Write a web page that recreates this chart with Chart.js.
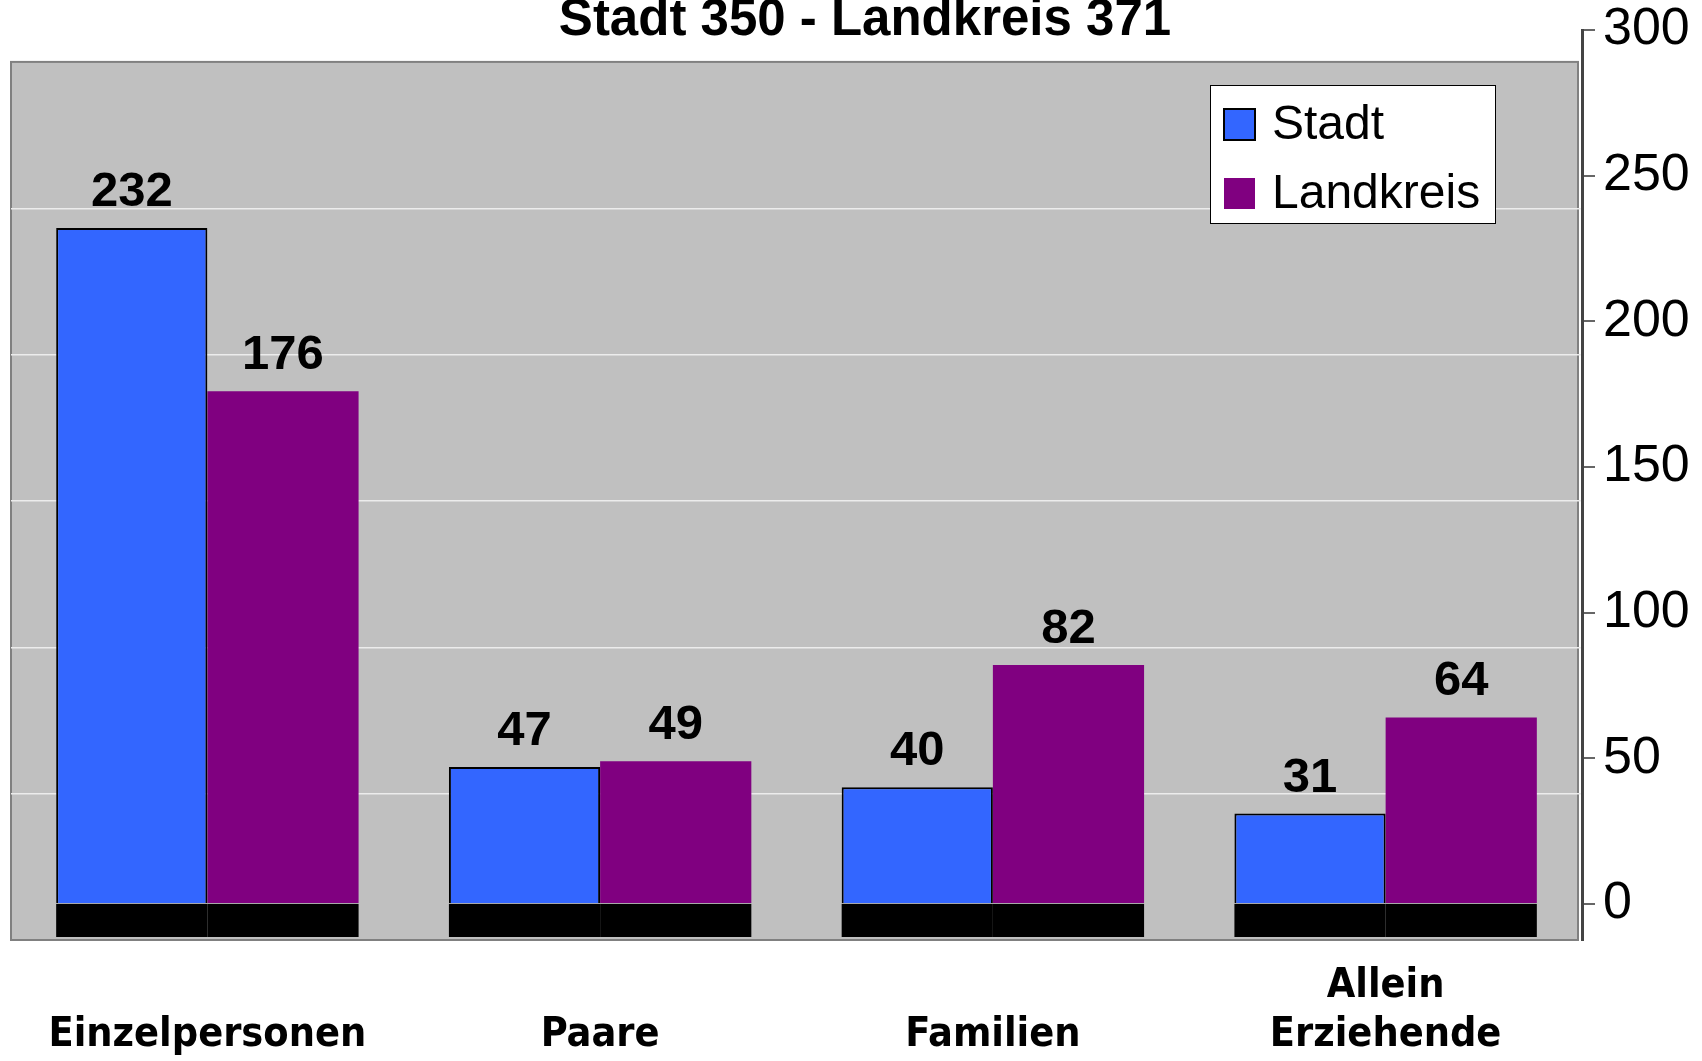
<!DOCTYPE html>
<html>
<head>
<meta charset="utf-8">
<script src="https://cdn.jsdelivr.net/npm/chart.js@4.4.1/dist/chart.umd.min.js"></script>
<style>
  html, body { margin: 0; padding: 0; background: #fff; }
  #wrap { width: 1702px; height: 1061px; }
</style>
</head>
<body>
<div id="wrap"><canvas id="chart"></canvas></div>
<script>
// values
const categories = ['Einzelpersonen', 'Paare', 'Familien', ['Allein', 'Erziehende']];
const stadt = [232, 47, 40, 31];
const landkreis = [176, 49, 82, 64];
const yTicks = [0, 50, 100, 150, 200, 250, 300];
const wallLines = [50, 100, 150, 200, 250];
const titleText = 'Stadt 350 - Landkreis 371';

// the gray back wall sits lower than the value axis, like the 3D original
const axisMin = -12.4;
const wallMax = 310.9;

const wallPlugin = {
    id: 'wall',
    beforeDraw(chart) {
        const ctx = chart.ctx;
        const area = chart.chartArea;
        const g = chart.scales.g;
        const top = g.getPixelForValue(300);
        const bottom = g.getPixelForValue(0);
        ctx.save();
        ctx.fillStyle = '#c0c0c0';
        ctx.fillRect(area.left, top, area.right - area.left - 4, bottom - top);
        ctx.strokeStyle = '#808080';
        ctx.lineWidth = 2;
        ctx.strokeRect(area.left, top, area.right - area.left - 4, bottom - top);
        ctx.restore();
    },
    beforeDatasetsDraw(chart) {
        // black floor under every bar
        const ctx = chart.ctx;
        const floorTop = chart.scales.y.getPixelForValue(0);
        const floorBottom = chart.scales.g.getPixelForValue(0) - 3;
        ctx.save();
        ctx.fillStyle = '#000';
        chart.data.datasets.forEach((ds, i) => {
            chart.getDatasetMeta(i).data.forEach(bar => {
                ctx.fillRect(bar.x - bar.width / 2, floorTop, bar.width, floorBottom - floorTop);
            });
        });
        ctx.restore();
    },
    afterDatasetsDraw(chart) {
        const ctx = chart.ctx;
        ctx.save();
        ctx.fillStyle = '#000';
        ctx.font = 'bold 49px "Liberation Sans", Arial, sans-serif';
        ctx.textAlign = 'center';
        ctx.textBaseline = 'alphabetic';
        chart.data.datasets.forEach((ds, i) => {
            chart.getDatasetMeta(i).data.forEach((bar, j) => {
                ctx.fillText(String(ds.data[j]), bar.x, bar.y - 22);
            });
        });
        ctx.restore();
    },
    afterDraw(chart) {
        const ctx = chart.ctx;
        ctx.save();
        // title
        ctx.fillStyle = '#000';
        ctx.font = 'bold 51px "Liberation Sans", Arial, sans-serif';
        ctx.textAlign = 'center';
        ctx.textBaseline = 'middle';
        ctx.fillText(titleText, 865, 21);

        // legend box
        const bx = 1210, by = 85, bw = 285, bh = 138;
        ctx.fillStyle = '#fff';
        ctx.fillRect(bx, by, bw, bh);
        ctx.strokeStyle = '#000';
        ctx.lineWidth = 1;
        ctx.strokeRect(bx + 0.5, by + 0.5, bw, bh);
        ctx.font = '48px "Liberation Sans", Arial, sans-serif';
        ctx.textAlign = 'left';
        chart.data.datasets.forEach((ds, i) => {
            const cy = by + 39 + i * 69;
            ctx.fillStyle = ds.backgroundColor;
            ctx.fillRect(bx + 14, cy - 15, 31, 31);
            if (ds.borderWidth) {
                ctx.strokeStyle = '#000';
                ctx.lineWidth = 2;
                ctx.strokeRect(bx + 14, cy - 15, 31, 31);
            }
            ctx.fillStyle = '#000';
            ctx.fillText(ds.label, bx + 62, cy + 2);
        });
        ctx.restore();
    }
};

new Chart(document.getElementById('chart'), {
    type: 'bar',
    data: {
        labels: categories,
        datasets: [{
            label: 'Stadt',
            data: stadt,
            backgroundColor: '#3366ff',
            borderColor: '#000',
            borderWidth: 2
        }, {
            label: 'Landkreis',
            data: landkreis,
            backgroundColor: '#800080',
            borderColor: '#800080',
            borderWidth: 0
        }]
    },
    options: {
        responsive: true,
        maintainAspectRatio: false,
        animation: false,
        categoryPercentage: 0.77,
        barPercentage: 1.0,
        layout: { padding: { left: 11, right: 0, top: 30, bottom: 0 } },
        plugins: {
            legend: { display: false },
            title: { display: false },
            tooltip: { enabled: false }
        },
        scales: {
            x: {
                offset: true,
                grid: { display: false },
                border: { display: false },
                ticks: {
                    color: '#000',
                    font: { family: '"DejaVu Sans Condensed", "DejaVu Sans"', weight: 'bold', size: 41, lineHeight: 1.2 },
                    crossAlign: 'far',
                    padding: 38,
                    maxRotation: 0,
                    autoSkip: false
                },
                afterFit: s => { s.height = 121; }
            },
            y: {
                position: 'right',
                min: axisMin,
                max: 300,
                afterBuildTicks: s => { s.ticks = yTicks.map(v => ({ value: v })); },
                grid: { drawOnChartArea: false, drawTicks: true, tickLength: 13, color: '#666', lineWidth: 2 },
                border: { display: true, color: '#444', width: 3 },
                ticks: {
                    color: '#000',
                    font: { family: 'Liberation Sans', size: 52, lineHeight: 0.84 },
                    padding: 8
                },
                afterFit: s => { s.width = 120; }
            },
            g: {
                position: 'left',
                min: 0,
                max: wallMax,
                afterBuildTicks: s => { s.ticks = wallLines.map(v => ({ value: v })); },
                grid: { color: '#ececec', lineWidth: 1.5, drawTicks: false },
                border: { display: false },
                ticks: { display: false },
                afterFit: s => { s.width = 0; }
            }
        }
    },
    plugins: [wallPlugin]
});
</script>
</body>
</html>
